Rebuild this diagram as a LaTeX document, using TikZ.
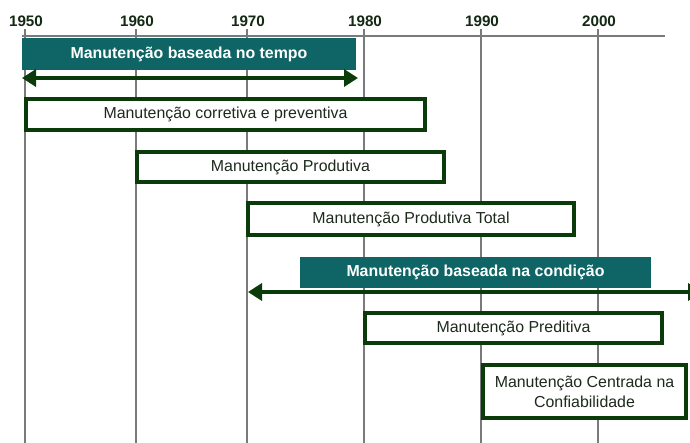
\documentclass[tikz,border=0pt]{standalone}
\usepackage{fontspec}
\setmainfont{Liberation Sans}
\usetikzlibrary{arrows.meta}
\definecolor{tealbox}{HTML}{0F6565}
\definecolor{dgreen}{HTML}{0B3B0B}
\definecolor{gridgray}{HTML}{7A7A7A}
\definecolor{txt}{HTML}{1E2A1E}
\definecolor{yeartxt}{HTML}{142814}
\begin{document}
\begin{tikzpicture}[x=1pt,y=-1pt,
  grid/.style={gridgray, line width=1.3pt},
  year/.style={font=\fontsize{15.2}{16}\selectfont\bfseries, text=yeartxt, inner sep=0pt, anchor=base},
  pbox/.style={draw=dgreen, line width=4pt, fill=white, inner sep=0pt, text=txt,
    font=\fontsize{15.9}{20}\selectfont, align=center},
  tbox/.style={fill=tealbox, inner sep=0pt, text=white, font=\fontsize{15.9}{20}\selectfont\bfseries},
  span/.style={dgreen, line width=4pt, {Triangle[length=14pt,width=17pt]}-{Triangle[length=14pt,width=17pt]}}
]
\useasboundingbox (0,0) rectangle (690,443);
\clip (0,0) rectangle (690,443);
\fill[white] (0,0) rectangle (690,443);

% year grid
\foreach \x/\yr [count=\i] in {25/1950,136/1960,247/1970,364/1980,481/1990,598/2000} {
  \node[year] (y\i) at (\x+1,26.5) {\yr};
  \coordinate (gt\i) at (\x,29);
  \coordinate (gb\i) at (\x,443);
  \draw[grid] (gt\i) -- (gb\i);
}
\coordinate (axl) at (22,36);
\coordinate (axr) at (665,36);
\draw[grid] (axl) -- (axr);

% time-based maintenance
\node[tbox, minimum width=334pt, minimum height=32pt] (tb) at (189,54) {Manuten\c{c}\~ao baseada no tempo};
\coordinate (a1l) at (22,78);
\coordinate (a1r) at (358,78);
\draw[span] (a1l) -- (a1r);

\node[pbox, minimum width=399pt, minimum height=31pt] (cp) at (225.5,114.5) {Manuten\c{c}\~ao corretiva e preventiva};
\node[pbox, minimum width=307pt, minimum height=30pt] (mp) at (290.5,167) {Manuten\c{c}\~ao Produtiva};
\node[pbox, minimum width=326pt, minimum height=32pt] (mpt) at (411,219) {Manuten\c{c}\~ao Produtiva Total};

% condition-based maintenance
\node[tbox, minimum width=351pt, minimum height=31pt] (cb) at (475.5,272.5) {Manuten\c{c}\~ao baseada na condi\c{c}\~ao};
\coordinate (a2l) at (248,292);
\coordinate (a2r) at (702,292);
\draw[span] (a2l) -- (a2r);

\node[pbox, minimum width=297pt, minimum height=30pt] (pd) at (513.5,328) {Manuten\c{c}\~ao Preditiva};
\node[pbox, minimum width=203pt, minimum height=53pt] (mcc) at (584.5,391.5) {Manuten\c{c}\~ao Centrada na\\Confiabilidade};
\end{tikzpicture}
\end{document}
